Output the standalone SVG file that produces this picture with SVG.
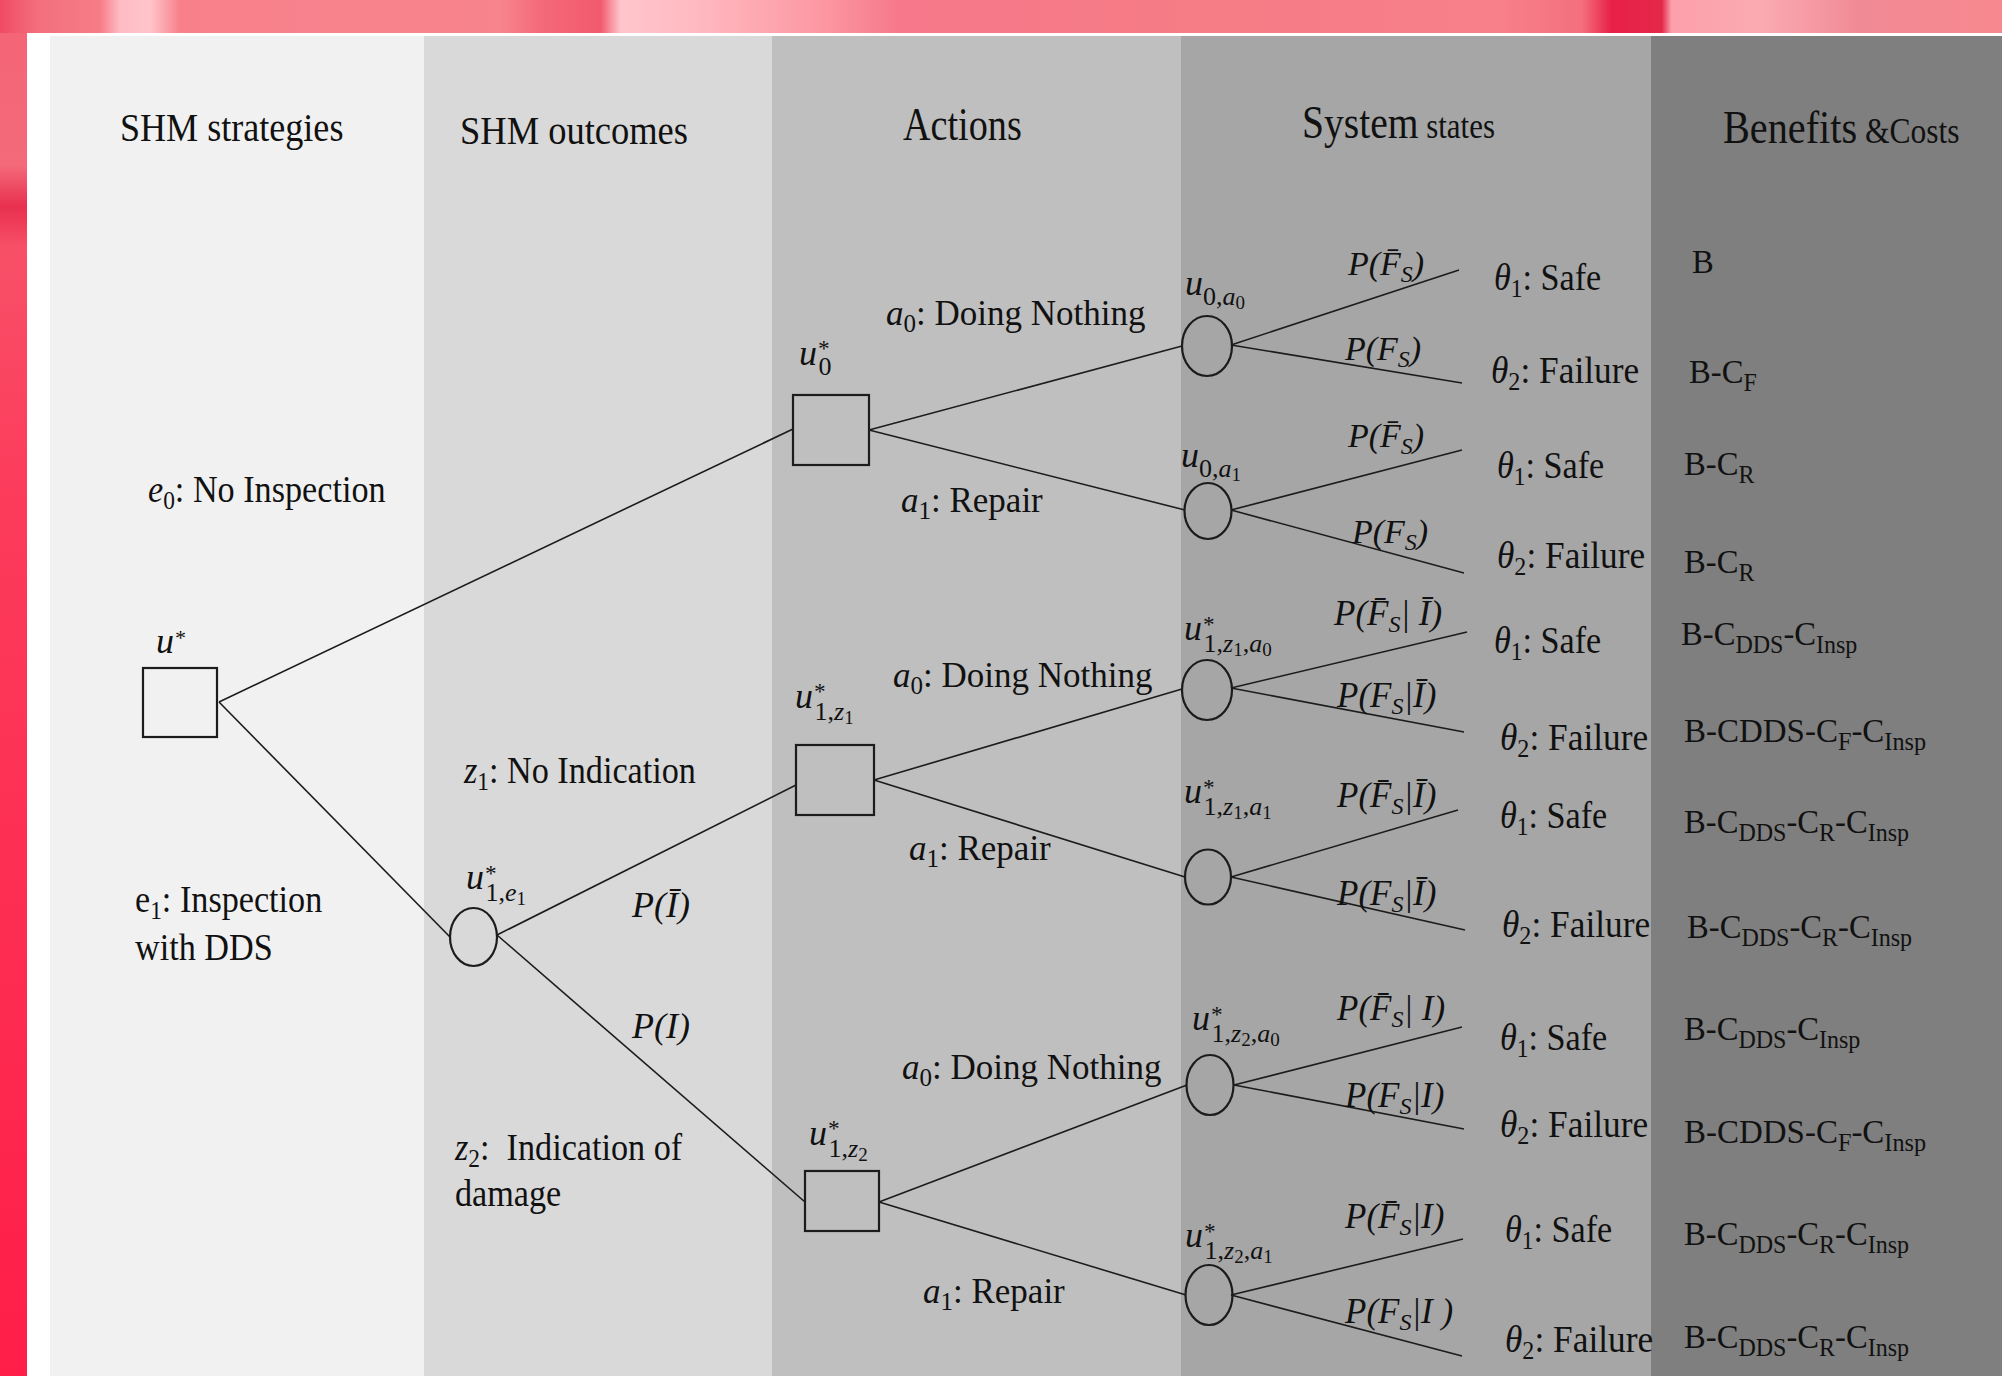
<svg xmlns="http://www.w3.org/2000/svg" width="2002" height="1376" viewBox="0 0 2002 1376">
<defs>
<linearGradient id="topband" x1="0" y1="0" x2="1" y2="0">
<stop offset="0" stop-color="#f04a64"/>
<stop offset="0.02" stop-color="#f4707e"/>
<stop offset="0.05" stop-color="#f67c88"/>
<stop offset="0.06" stop-color="#ffbcc4"/>
<stop offset="0.075" stop-color="#ffc4ca"/>
<stop offset="0.09" stop-color="#f7808b"/>
<stop offset="0.25" stop-color="#f8848e"/>
<stop offset="0.27" stop-color="#f46a7a"/>
<stop offset="0.30" stop-color="#f25a6e"/>
<stop offset="0.31" stop-color="#ffc6cc"/>
<stop offset="0.35" stop-color="#ffb8c0"/>
<stop offset="0.41" stop-color="#fc98a2"/>
<stop offset="0.45" stop-color="#f6788a"/>
<stop offset="0.60" stop-color="#f67c86"/>
<stop offset="0.75" stop-color="#f7808a"/>
<stop offset="0.79" stop-color="#f4707e"/>
<stop offset="0.805" stop-color="#e82048"/>
<stop offset="0.83" stop-color="#e4284a"/>
<stop offset="0.835" stop-color="#fca0ac"/>
<stop offset="0.88" stop-color="#fbaab2"/>
<stop offset="0.93" stop-color="#f08a94"/>
<stop offset="1" stop-color="#f88890"/>
</linearGradient>
<linearGradient id="leftband" x1="0" y1="0" x2="0" y2="1">
<stop offset="0" stop-color="#f46476"/>
<stop offset="0.12" stop-color="#f46a7a"/>
<stop offset="0.15" stop-color="#e8304f"/>
<stop offset="0.18" stop-color="#f85068"/>
<stop offset="0.35" stop-color="#fc3c5c"/>
<stop offset="1" stop-color="#ff1e48"/>
</linearGradient>
<style>
.t{font-family:'Liberation Serif','Times New Roman',serif;fill:#111;}
.it{font-style:italic;}
.up{font-style:normal;}
.edge{stroke:#1c1c1c;stroke-width:1.6;fill:none;}
.box{stroke:#1c1c1c;stroke-width:2.2;fill:none;}
</style>
</defs>

<g id="background">
<rect x="0" y="0" width="2002" height="1376" fill="#ffffff"/>
<rect x="0" y="0" width="27" height="1376" fill="url(#leftband)"/>
<rect x="0" y="0" width="2002" height="33" fill="url(#topband)"/>
<rect x="50" y="36" width="374" height="1340" fill="#f1f1f1"/>
<rect x="424" y="36" width="348" height="1340" fill="#d9d9d9"/>
<rect x="772" y="36" width="409" height="1340" fill="#bfbfbf"/>
<rect x="1181" y="36" width="470" height="1340" fill="#a6a6a6"/>
<rect x="1651" y="36" width="351" height="1340" fill="#7f7f7f"/>
</g>

<g id="headers">
<text class="t" font-size="41" transform="translate(120,141) scale(0.88,1)">SHM strategies</text>
<text class="t" font-size="41" transform="translate(460,144) scale(0.89,1)">SHM outcomes</text>
<text class="t" font-size="46" transform="translate(903,140) scale(0.83,1)">Actions</text>
<text class="t" transform="translate(1302,138) scale(0.86,1)"><tspan font-size="46">System</tspan><tspan font-size="36"> states</tspan></text>
<text class="t" transform="translate(1723,143) scale(0.875,1)"><tspan font-size="46">Benefits</tspan><tspan font-size="36"> &amp;Costs</tspan></text>
</g>

<g id="connectors">
<path class="edge" d="M219,702 L793,429"/>
<path class="edge" d="M219,702 L450,937"/>
<path class="edge" d="M497,935 L796,785"/>
<path class="edge" d="M497,935 L805,1202"/>
<path class="edge" d="M869,430 L1182,346"/>
<path class="edge" d="M869,430 L1185,510"/>
<path class="edge" d="M874,780 L1182,689"/>
<path class="edge" d="M874,780 L1185,877"/>
<path class="edge" d="M879,1202 L1187,1085"/>
<path class="edge" d="M879,1202 L1186,1295"/>
<path class="edge" d="M1231,345 L1459,270"/>
<path class="edge" d="M1231,345 L1462,383"/>
<path class="edge" d="M1231,510 L1462,450"/>
<path class="edge" d="M1231,510 L1464,573"/>
<path class="edge" d="M1231,688 L1467,632"/>
<path class="edge" d="M1231,688 L1464,732"/>
<path class="edge" d="M1231,877 L1458,810"/>
<path class="edge" d="M1231,877 L1465,930"/>
<path class="edge" d="M1234,1085 L1462,1027"/>
<path class="edge" d="M1234,1085 L1464,1129"/>
<path class="edge" d="M1231,1295 L1463,1239"/>
<path class="edge" d="M1231,1295 L1462,1356"/>
</g>

<g id="edge-labels">
<text class="t" font-size="38" transform="translate(148,502) scale(0.9,1)"><tspan class="it">e</tspan><tspan font-size="26" dy="7">0</tspan><tspan dy="-7">: No Inspection</tspan></text>
<text class="t" font-size="38" transform="translate(135,912) scale(0.9,1)">e<tspan font-size="26" dy="7">1</tspan><tspan dy="-7">: Inspection</tspan></text>
<text class="t" font-size="38" transform="translate(135,960) scale(0.9,1)">with DDS</text>
<text class="t" font-size="38" transform="translate(464,783) scale(0.9,1)"><tspan class="it">z</tspan><tspan font-size="26" dy="7">1</tspan><tspan dy="-7">: No Indication</tspan></text>
<text class="t" font-size="38" transform="translate(455,1160) scale(0.9,1)"><tspan class="it">z</tspan><tspan font-size="26" dy="7">2</tspan><tspan dy="-7">:&#160; Indication of</tspan></text>
<text class="t" font-size="38" transform="translate(455,1206) scale(0.9,1)">damage</text>
<text class="t it" font-size="36" transform="translate(632,917)">P(&#x012A;)</text>
<text class="t it" font-size="36" transform="translate(632,1038)">P(I)</text>

<text class="t" font-size="35" transform="translate(886,325)"><tspan class="it">a</tspan><tspan font-size="25" dy="7">0</tspan><tspan dy="-7">: Doing Nothing</tspan></text>
<text class="t" font-size="35" transform="translate(901,512)"><tspan class="it">a</tspan><tspan font-size="25" dy="7">1</tspan><tspan dy="-7">: Repair</tspan></text>
<text class="t" font-size="35" transform="translate(893,687)"><tspan class="it">a</tspan><tspan font-size="25" dy="7">0</tspan><tspan dy="-7">: Doing Nothing</tspan></text>
<text class="t" font-size="35" transform="translate(909,860)"><tspan class="it">a</tspan><tspan font-size="25" dy="7">1</tspan><tspan dy="-7">: Repair</tspan></text>
<text class="t" font-size="35" transform="translate(902,1079)"><tspan class="it">a</tspan><tspan font-size="25" dy="7">0</tspan><tspan dy="-7">: Doing Nothing</tspan></text>
<text class="t" font-size="35" transform="translate(923,1303)"><tspan class="it">a</tspan><tspan font-size="25" dy="7">1</tspan><tspan dy="-7">: Repair</tspan></text>

<text class="t it" font-size="34" transform="translate(1348,275)">P(F&#x0304;<tspan font-size="24" dy="7">S</tspan><tspan dy="-7">)</tspan></text>
<text class="t it" font-size="34" transform="translate(1345,360)">P(F<tspan font-size="24" dy="7">S</tspan><tspan dy="-7">)</tspan></text>
<text class="t it" font-size="34" transform="translate(1348,447)">P(F&#x0304;<tspan font-size="24" dy="7">S</tspan><tspan dy="-7">)</tspan></text>
<text class="t it" font-size="34" transform="translate(1352,543)">P(F<tspan font-size="24" dy="7">S</tspan><tspan dy="-7">)</tspan></text>
<text class="t it" font-size="35" transform="translate(1334,625)">P(F&#x0304;<tspan font-size="24" dy="7">S</tspan><tspan dy="-7">| &#x012A;)</tspan></text>
<text class="t it" font-size="35" transform="translate(1337,707)">P(F<tspan font-size="24" dy="7">S</tspan><tspan dy="-7">|&#x012A;)</tspan></text>
<text class="t it" font-size="35" transform="translate(1337,807)">P(F&#x0304;<tspan font-size="24" dy="7">S</tspan><tspan dy="-7">|&#x012A;)</tspan></text>
<text class="t it" font-size="35" transform="translate(1337,905)">P(F<tspan font-size="24" dy="7">S</tspan><tspan dy="-7">|&#x012A;)</tspan></text>
<text class="t it" font-size="35" transform="translate(1337,1020)">P(F&#x0304;<tspan font-size="24" dy="7">S</tspan><tspan dy="-7">| I)</tspan></text>
<text class="t it" font-size="35" transform="translate(1345,1107)">P(F<tspan font-size="24" dy="7">S</tspan><tspan dy="-7">|I)</tspan></text>
<text class="t it" font-size="35" transform="translate(1345,1228)">P(F&#x0304;<tspan font-size="24" dy="7">S</tspan><tspan dy="-7">|I)</tspan></text>
<text class="t it" font-size="35" transform="translate(1345,1323)">P(F<tspan font-size="24" dy="7">S</tspan><tspan dy="-7">|I )</tspan></text>
</g>

<g id="n-root">
<rect class="box" x="143" y="668" width="74" height="69"/>
<text class="t it" font-size="36" transform="translate(156,653)">u<tspan font-size="22" dy="-8">*</tspan></text>
</g>
<g id="n-u1e1">
<ellipse class="box" cx="473.5" cy="937" rx="23.5" ry="29"/>
<text class="t it" font-size="36" transform="translate(466,889)">u<tspan font-size="23" dy="-8">*</tspan><tspan class="up" font-size="26" dx="-10" dy="20">1,</tspan><tspan font-size="26">e</tspan><tspan class="up" font-size="19" dy="4">1</tspan></text>
</g>
<g id="n-u0">
<rect class="box" x="793" y="395" width="76" height="70"/>
<text class="t it" font-size="36" transform="translate(799,365)">u<tspan font-size="23" dy="-9">*</tspan><tspan class="up" font-size="26" dx="-10" dy="19">0</tspan></text>
</g>
<g id="n-u1z1">
<rect class="box" x="796" y="745" width="78" height="70"/>
<text class="t it" font-size="36" transform="translate(795,708)">u<tspan font-size="23" dy="-9">*</tspan><tspan class="up" font-size="26" dx="-10" dy="21">1,</tspan><tspan font-size="26">z</tspan><tspan class="up" font-size="19" dy="4">1</tspan></text>
</g>
<g id="n-u1z2">
<rect class="box" x="805" y="1171" width="74" height="60"/>
<text class="t it" font-size="36" transform="translate(809,1145)">u<tspan font-size="23" dy="-9">*</tspan><tspan class="up" font-size="26" dx="-10" dy="21">1,</tspan><tspan font-size="26">z</tspan><tspan class="up" font-size="19" dy="4">2</tspan></text>
</g>
<g id="n-u0a0">
<ellipse class="box" cx="1207" cy="346" rx="25" ry="30"/>
<text class="t it" font-size="36" transform="translate(1185,295)">u<tspan class="up" font-size="26" dy="10">0,</tspan><tspan font-size="26">a</tspan><tspan class="up" font-size="19" dy="4">0</tspan></text>
</g>
<g id="n-u0a1">
<ellipse class="box" cx="1208" cy="511" rx="23.5" ry="28"/>
<text class="t it" font-size="36" transform="translate(1181,467)">u<tspan class="up" font-size="26" dy="10">0,</tspan><tspan font-size="26">a</tspan><tspan class="up" font-size="19" dy="4">1</tspan></text>
</g>
<g id="n-u1z1a0">
<ellipse class="box" cx="1207" cy="690" rx="25" ry="30"/>
<text class="t it" font-size="36" transform="translate(1184,640)">u<tspan font-size="23" dy="-8">*</tspan><tspan class="up" font-size="26" dx="-10" dy="20">1,</tspan><tspan font-size="26">z</tspan><tspan class="up" font-size="19" dy="4">1</tspan><tspan class="up" font-size="26" dy="-4">,</tspan><tspan font-size="26">a</tspan><tspan class="up" font-size="19" dy="4">0</tspan></text>
</g>
<g id="n-u1z1a1">
<ellipse class="box" cx="1208" cy="877" rx="23" ry="27.5"/>
<text class="t it" font-size="36" transform="translate(1184,803)">u<tspan font-size="23" dy="-8">*</tspan><tspan class="up" font-size="26" dx="-10" dy="20">1,</tspan><tspan font-size="26">z</tspan><tspan class="up" font-size="19" dy="4">1</tspan><tspan class="up" font-size="26" dy="-4">,</tspan><tspan font-size="26">a</tspan><tspan class="up" font-size="19" dy="4">1</tspan></text>
</g>
<g id="n-u1z2a0">
<ellipse class="box" cx="1210" cy="1085" rx="23.5" ry="30"/>
<text class="t it" font-size="36" transform="translate(1192,1030)">u<tspan font-size="23" dy="-8">*</tspan><tspan class="up" font-size="26" dx="-10" dy="20">1,</tspan><tspan font-size="26">z</tspan><tspan class="up" font-size="19" dy="4">2</tspan><tspan class="up" font-size="26" dy="-4">,</tspan><tspan font-size="26">a</tspan><tspan class="up" font-size="19" dy="4">0</tspan></text>
</g>
<g id="n-u1z2a1">
<ellipse class="box" cx="1209" cy="1295" rx="23.5" ry="30"/>
<text class="t it" font-size="36" transform="translate(1185,1247)">u<tspan font-size="23" dy="-8">*</tspan><tspan class="up" font-size="26" dx="-10" dy="20">1,</tspan><tspan font-size="26">z</tspan><tspan class="up" font-size="19" dy="4">2</tspan><tspan class="up" font-size="26" dy="-4">,</tspan><tspan font-size="26">a</tspan><tspan class="up" font-size="19" dy="4">1</tspan></text>
</g>

<g id="leaf-1"><text class="t" font-size="38" transform="translate(1494,290) scale(0.9,1)"><tspan class="it">θ</tspan><tspan font-size="26" dy="7">1</tspan><tspan dy="-7">: Safe</tspan></text>
<text class="t" font-size="34" transform="translate(1692,273) scale(0.96,1)">B</text></g>
<g id="leaf-2"><text class="t" font-size="38" transform="translate(1491,383) scale(0.93,1)"><tspan class="it">θ</tspan><tspan font-size="26" dy="7">2</tspan><tspan dy="-7">: Failure</tspan></text>
<text class="t" font-size="34" transform="translate(1689,383) scale(0.96,1)">B-C<tspan font-size="25" dy="8">F</tspan></text></g>
<g id="leaf-3"><text class="t" font-size="38" transform="translate(1497,478) scale(0.9,1)"><tspan class="it">θ</tspan><tspan font-size="26" dy="7">1</tspan><tspan dy="-7">: Safe</tspan></text>
<text class="t" font-size="34" transform="translate(1684,475) scale(0.96,1)">B-C<tspan font-size="25" dy="8">R</tspan></text></g>
<g id="leaf-4"><text class="t" font-size="38" transform="translate(1497,568) scale(0.93,1)"><tspan class="it">θ</tspan><tspan font-size="26" dy="7">2</tspan><tspan dy="-7">: Failure</tspan></text>
<text class="t" font-size="34" transform="translate(1684,573) scale(0.96,1)">B-C<tspan font-size="25" dy="8">R</tspan></text></g>
<g id="leaf-5"><text class="t" font-size="38" transform="translate(1494,653) scale(0.9,1)"><tspan class="it">θ</tspan><tspan font-size="26" dy="7">1</tspan><tspan dy="-7">: Safe</tspan></text>
<text class="t" font-size="34" transform="translate(1681,645) scale(0.96,1)">B-C<tspan font-size="25" dy="8">DDS</tspan><tspan dy="-8">-C</tspan><tspan font-size="25" dy="8">Insp</tspan></text></g>
<g id="leaf-6"><text class="t" font-size="38" transform="translate(1500,750) scale(0.93,1)"><tspan class="it">θ</tspan><tspan font-size="26" dy="7">2</tspan><tspan dy="-7">: Failure</tspan></text>
<text class="t" font-size="34" transform="translate(1684,742) scale(0.97,1)">B-CDDS-C<tspan font-size="25" dy="8">F</tspan><tspan dy="-8">-C</tspan><tspan font-size="25" dy="8">Insp</tspan></text></g>
<g id="leaf-7"><text class="t" font-size="38" transform="translate(1500,828) scale(0.9,1)"><tspan class="it">θ</tspan><tspan font-size="26" dy="7">1</tspan><tspan dy="-7">: Safe</tspan></text>
<text class="t" font-size="34" transform="translate(1684,833) scale(0.96,1)">B-C<tspan font-size="25" dy="8">DDS</tspan><tspan dy="-8">-C</tspan><tspan font-size="25" dy="8">R</tspan><tspan dy="-8">-C</tspan><tspan font-size="25" dy="8">Insp</tspan></text></g>
<g id="leaf-8"><text class="t" font-size="38" transform="translate(1502,937) scale(0.93,1)"><tspan class="it">θ</tspan><tspan font-size="26" dy="7">2</tspan><tspan dy="-7">: Failure</tspan></text>
<text class="t" font-size="34" transform="translate(1687,938) scale(0.96,1)">B-C<tspan font-size="25" dy="8">DDS</tspan><tspan dy="-8">-C</tspan><tspan font-size="25" dy="8">R</tspan><tspan dy="-8">-C</tspan><tspan font-size="25" dy="8">Insp</tspan></text></g>
<g id="leaf-9"><text class="t" font-size="38" transform="translate(1500,1050) scale(0.9,1)"><tspan class="it">θ</tspan><tspan font-size="26" dy="7">1</tspan><tspan dy="-7">: Safe</tspan></text>
<text class="t" font-size="34" transform="translate(1684,1040) scale(0.96,1)">B-C<tspan font-size="25" dy="8">DDS</tspan><tspan dy="-8">-C</tspan><tspan font-size="25" dy="8">Insp</tspan></text></g>
<g id="leaf-10"><text class="t" font-size="38" transform="translate(1500,1137) scale(0.93,1)"><tspan class="it">θ</tspan><tspan font-size="26" dy="7">2</tspan><tspan dy="-7">: Failure</tspan></text>
<text class="t" font-size="34" transform="translate(1684,1143) scale(0.97,1)">B-CDDS-C<tspan font-size="25" dy="8">F</tspan><tspan dy="-8">-C</tspan><tspan font-size="25" dy="8">Insp</tspan></text></g>
<g id="leaf-11"><text class="t" font-size="38" transform="translate(1505,1242) scale(0.9,1)"><tspan class="it">θ</tspan><tspan font-size="26" dy="7">1</tspan><tspan dy="-7">: Safe</tspan></text>
<text class="t" font-size="34" transform="translate(1684,1245) scale(0.96,1)">B-C<tspan font-size="25" dy="8">DDS</tspan><tspan dy="-8">-C</tspan><tspan font-size="25" dy="8">R</tspan><tspan dy="-8">-C</tspan><tspan font-size="25" dy="8">Insp</tspan></text></g>
<g id="leaf-12"><text class="t" font-size="38" transform="translate(1505,1352) scale(0.93,1)"><tspan class="it">θ</tspan><tspan font-size="26" dy="7">2</tspan><tspan dy="-7">: Failure</tspan></text>
<text class="t" font-size="34" transform="translate(1684,1348) scale(0.96,1)">B-C<tspan font-size="25" dy="8">DDS</tspan><tspan dy="-8">-C</tspan><tspan font-size="25" dy="8">R</tspan><tspan dy="-8">-C</tspan><tspan font-size="25" dy="8">Insp</tspan></text></g>
</svg>
